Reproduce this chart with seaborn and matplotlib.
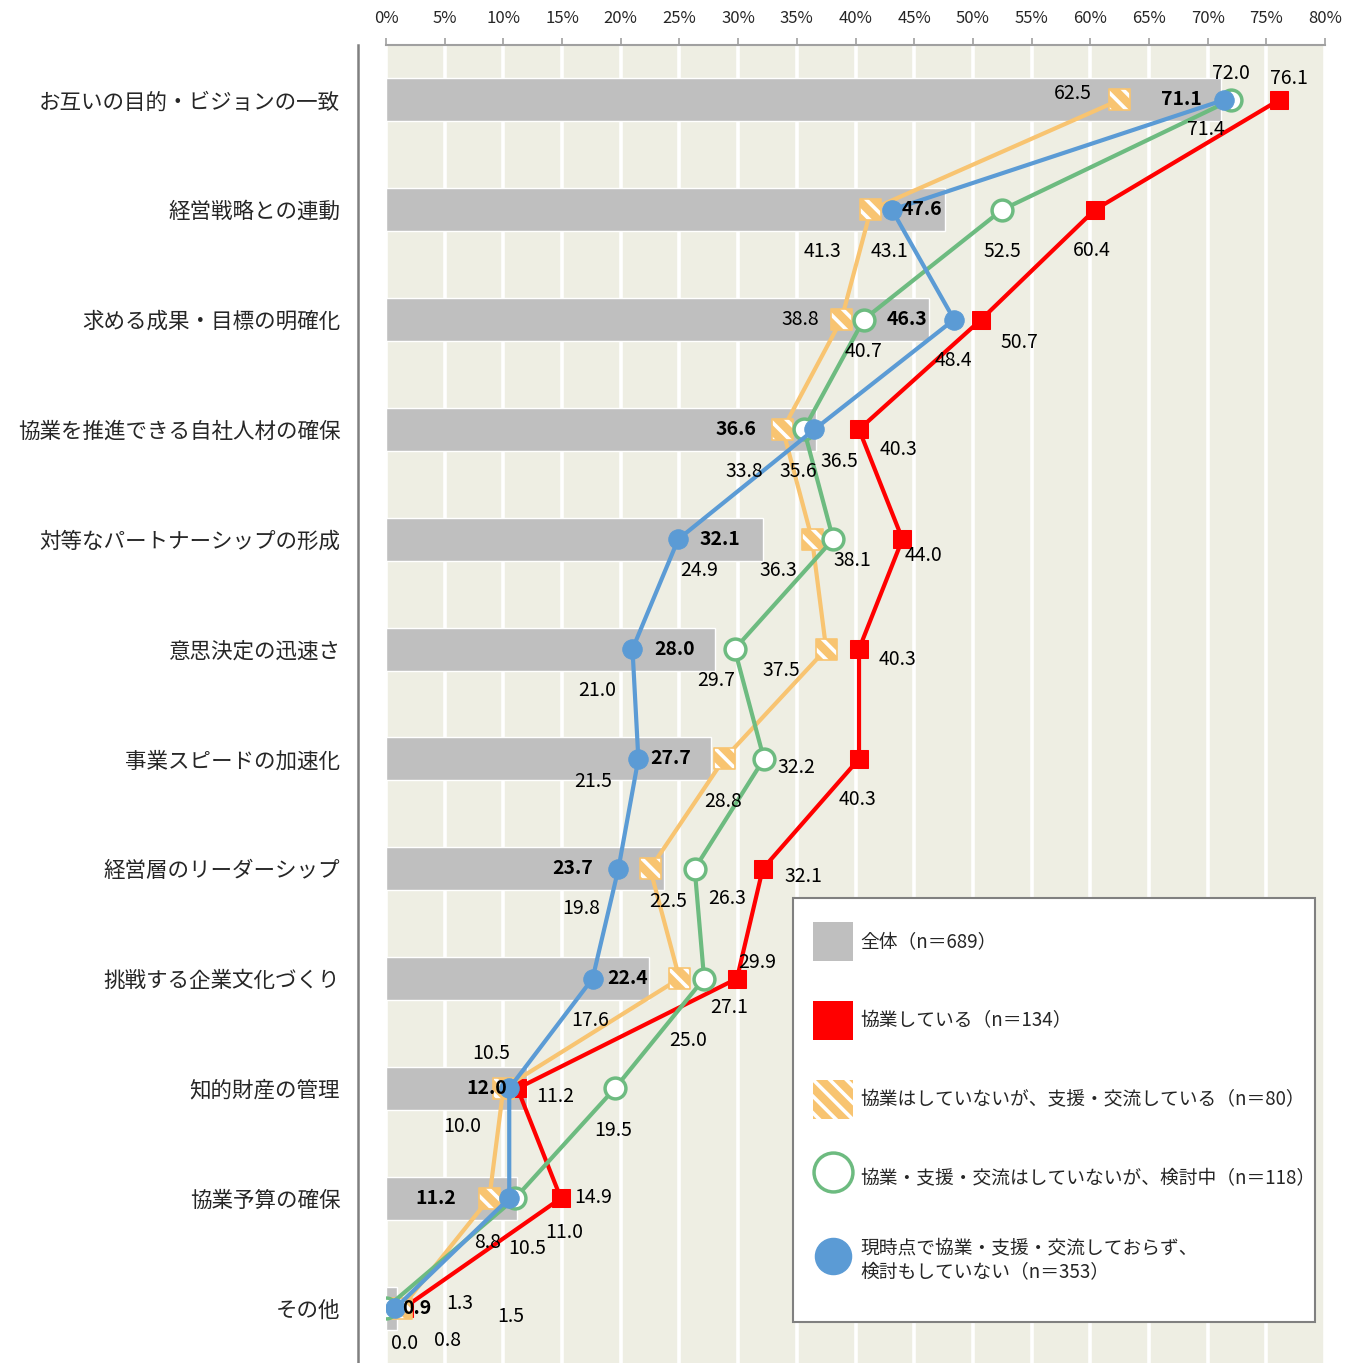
import numpy as np
import pandas as pd
import matplotlib
matplotlib.use("Agg")
import matplotlib.pyplot as plt
import seaborn as sns
from matplotlib.patches import Patch, Rectangle
from matplotlib.lines import Line2D

# ---------------- data ----------------
categories = [
    "お互いの目的・ビジョンの一致",
    "経営戦略との連動",
    "求める成果・目標の明確化",
    "協業を推進できる自社人材の確保",
    "対等なパートナーシップの形成",
    "意思決定の迅速さ",
    "事業スピードの加速化",
    "経営層のリーダーシップ",
    "挑戦する企業文化づくり",
    "知的財産の管理",
    "協業予算の確保",
    "その他",
]
overall = [71.1, 47.6, 46.3, 36.6, 32.1, 28.0, 27.7, 23.7, 22.4, 12.0, 11.2, 0.9]
collab = [76.1, 60.4, 50.7, 40.3, 44.0, 40.3, 40.3, 32.1, 29.9, 11.2, 14.9, 1.5]
support = [62.5, 41.3, 38.8, 33.8, 36.3, 37.5, 28.8, 22.5, 25.0, 10.0, 8.8, 1.3]
considering = [72.0, 52.5, 40.7, 35.6, 38.1, 29.7, 32.2, 26.3, 27.1, 19.5, 11.0, 0.0]
no_action = [71.4, 43.1, 48.4, 36.5, 24.9, 21.0, 21.5, 19.8, 17.6, 10.5, 10.5, 0.8]

legend_labels = [
    "全体（n＝689）",
    "協業している（n＝134）",
    "協業はしていないが、支援・交流している（n＝80）",
    "協業・支援・交流はしていないが、検討中（n＝118）",
    "現時点で協業・支援・交流しておらず、\n検討もしていない（n＝353）",
]
x_ticks = list(range(0, 85, 5))
x_tick_labels = [f"{t}%" for t in x_ticks]

# ---------------- layout (label offsets in pixels: dx, dy-down) ----------------
red_off = [(10, -21), (-3, 41), (38, 23), (39, 20), (21, 16), (38, 10), (-2, 41), (41, 8), (20, -16), (38, 8), (32, -1), (107, 8)]
orange_off = [(-47, -6), (-48, 42), (-41, 0), (-38, 42), (-34, 31), (-45, 21), (-1, 43), (18, 33), (9, 62), (-41, 38), (-2, 44), (58, -5)]
green_off = [(0, -26), (0, 42), (0, 32), (-6, 42), (19, 21), (-18, 31), (32, 9), (32, 30), (25, 29), (-2, 42), (49, 34), (19, 35)]
blue_off = [(-18, 30), (-2, 42), (-1, 41), (25, 32), (21, 31), (-35, 41), (-45, 23), (-37, 40), (-2, 42), (-18, -35), (18, 50), (52, 32)]
bar_off = [-19, -2, -2, -59, -22, -20, -20, -71, -1, -20, -61, 35]

C_BAR = "#BFBFBF"
C_RED = "#FF0000"
C_ORANGE = "#F8C471"
C_GREEN = "#6DBB80"
C_BLUE = "#5B9BD5"

sns.set_theme(style="white")
plt.rcParams["font.family"] = ["Noto Sans CJK JP", "DejaVu Sans"]
plt.rcParams["hatch.linewidth"] = 2.6
plt.rcParams["hatch.color"] = "white"

W, H = 1359, 1363
fig = plt.figure(figsize=(W / 100, H / 100), dpi=100)
ax = fig.add_axes([386 / W, 0, (1325 - 386) / W, 1318 / H])
ax.set_facecolor("#EEEEE3")

df = pd.DataFrame({"cat": categories, "overall": overall})
sns.barplot(data=df, x="overall", y="cat", orient="h", color=C_BAR, saturation=1,
            width=0.39, ax=ax, zorder=2)

ypos = np.arange(len(categories))

sns.lineplot(x=collab, y=ypos, orient="y", sort=False, estimator=None, ax=ax,
             color=C_RED, lw=3, marker="s", ms=12.5, mec=C_RED, mfc=C_RED, zorder=3, legend=False)
sns.lineplot(x=support, y=ypos, orient="y", sort=False, estimator=None, ax=ax,
             color=C_ORANGE, lw=3, zorder=4, legend=False)
ax.scatter(support, ypos, marker="s", s=230, facecolor=C_ORANGE, edgecolor="white",
           linewidths=0, hatch="\\\\", zorder=4.5)
ax.scatter(support, ypos, marker="s", s=230, facecolor="none", edgecolor=C_ORANGE,
           linewidths=1.2, zorder=4.6)
sns.lineplot(x=considering, y=ypos, orient="y", sort=False, estimator=None, ax=ax,
             color=C_GREEN, lw=3, marker="o", ms=15, mfc="white", mec=C_GREEN, mew=2.5,
             zorder=5, legend=False)
sns.lineplot(x=no_action, y=ypos, orient="y", sort=False, estimator=None, ax=ax,
             color=C_BLUE, lw=3, marker="o", ms=14, mfc=C_BLUE, mec=C_BLUE,
             zorder=6, legend=False)

# value labels
for vals, offs in [(collab, red_off), (support, orange_off), (considering, green_off), (no_action, blue_off)]:
    for i, (v, (dx, dy)) in enumerate(zip(vals, offs)):
        ax.annotate(f"{v:.1f}", (v, i), xytext=(dx, -dy), textcoords="offset pixels",
                    ha="center", va="center", fontsize=14, color="black", zorder=10)
for i, (v, dx) in enumerate(zip(overall, bar_off)):
    ax.annotate(f"{v:.1f}", (v, i), xytext=(dx, 0), textcoords="offset pixels",
                ha="right", va="center", fontsize=14, fontweight="bold", color="black", zorder=10)

# axes styling
ax.set_xlim(0, 80)
ax.set_ylim(len(categories) - 0.5, -0.5)
ax.set_xticks(x_ticks)
ax.set_xticklabels(x_tick_labels)
ax.set_axisbelow(True)
ax.grid(axis="x", color="white", lw=2.6)
ax.grid(axis="y", visible=False)
ax.set_xlabel("")
ax.set_ylabel("")
ax.xaxis.tick_top()
ax.tick_params(axis="x", top=True, bottom=False, labeltop=True, labelbottom=False,
               length=5, width=1.2, color="#A0A0A0", pad=8, labelsize=12)
ax.tick_params(axis="y", length=0, pad=13, labelsize=15.5)
for s in ["right", "bottom"]:
    ax.spines[s].set_visible(False)
ax.spines["top"].set_color("#A0A0A0")
ax.spines["top"].set_linewidth(1.5)
ax.spines["left"].set_position(("outward", 20))
ax.spines["left"].set_color("#808080")
ax.spines["left"].set_linewidth(1.8)

# legend box
box = Rectangle((793 / W, 1 - 1322 / H), (1315 - 793) / W, (1322 - 898) / H,
                transform=fig.transFigure, facecolor="white", edgecolor="#808080",
                linewidth=1.5, zorder=15)
fig.add_artist(box)

handles = [
    Patch(facecolor=C_BAR, edgecolor="none"),
    Patch(facecolor=C_RED, edgecolor="none"),
    Patch(facecolor=C_ORANGE, edgecolor="white", linewidth=0, hatch="\\\\"),
    Line2D([], [], ls="none", marker="o", ms=28, mfc="white", mec=C_GREEN, mew=2.5),
    Line2D([], [], ls="none", marker="o", ms=26, mfc=C_BLUE, mec=C_BLUE),
]
leg = fig.legend(handles, legend_labels, loc="upper left",
                 bbox_to_anchor=(813 / W, 1 - 922 / H), frameon=False, fontsize=13.5,
                 handlelength=2.13, handleheight=2.8, labelspacing=2.15, borderpad=0,
                 handletextpad=0.4, borderaxespad=0)
leg.set_zorder(20)

fig.savefig("out.png", dpi=100)
